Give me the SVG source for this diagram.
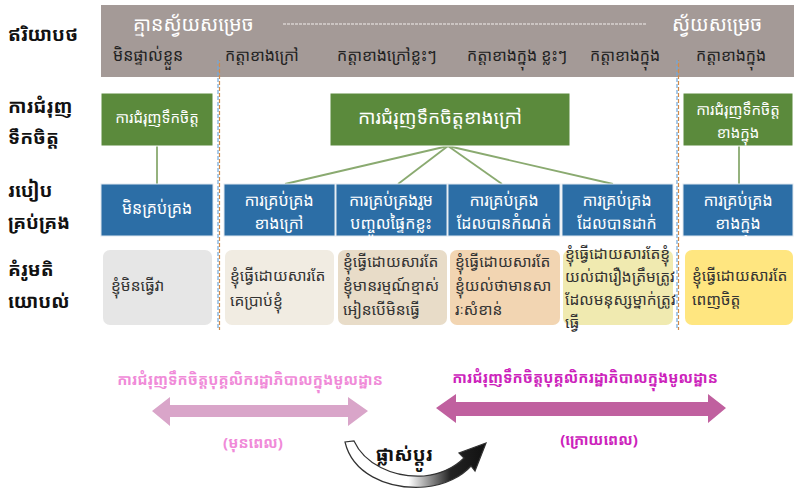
<svg xmlns="http://www.w3.org/2000/svg" width="794" height="491" viewBox="0 0 794 491">
<defs>
<style>
text{font-family:"Noto Sans Khmer","Khmer OS","Noto Sans","DejaVu Sans",sans-serif;}
.lbl{font-size:19px;font-weight:bold;fill:#111;}
.hdr{font-size:19.5px;fill:#fff;}
.sub{font-size:16px;fill:#222;}
.gbox{fill:#5b8a3c;stroke:#fff;stroke-width:1;}
.bbox{fill:#2c6ea6;stroke:#dfe8f0;stroke-width:1;}
.wt{font-size:16px;fill:#fff;text-anchor:middle;}
.dt{font-size:15.5px;fill:#333;}
.conn{stroke:#8aaa70;stroke-width:1.8;fill:none;}
</style>
<linearGradient id="cg" x1="0" y1="0" x2="1" y2="0">
<stop offset="0" stop-color="#ffffff"/>
<stop offset="0.45" stop-color="#ffffff"/>
<stop offset="0.75" stop-color="#222"/>
<stop offset="1" stop-color="#111"/>
</linearGradient>
</defs>
<rect width="794" height="491" fill="#fff"/>

<g id="header">
<rect x="101" y="5" width="693" height="72" fill="#a49a97"/>
<text class="hdr" x="133" y="31">គ្មានស្វ័យសម្រេច</text>
<line x1="283" y1="24" x2="647" y2="24" stroke="#f2eeec" stroke-width="1" stroke-dasharray="3,1"/>
<text class="hdr" x="672" y="31">ស្វ័យសម្រេច</text>
<text class="sub" x="113" y="61">មិនផ្ទាល់ខ្លួន</text>
<text class="sub" x="225" y="61">កត្តាខាងក្រៅ</text>
<text class="sub" x="337" y="61">កត្តាខាងក្រៅខ្លះៗ</text>
<text class="sub" x="467" y="61">កត្តាខាងក្នុង ខ្លះៗ</text>
<text class="sub" x="590" y="61">កត្តាខាងក្នុង</text>
<text class="sub" x="696" y="61">កត្តាខាងក្នុង</text>
</g>

<g id="row-labels">
<text class="lbl" x="8" y="41">ឥរិយាបថ</text>
<text class="lbl" x="8" y="113">ការជំរុញ</text>
<text class="lbl" x="8" y="144">ទឹកចិត្ត</text>
<text class="lbl" x="8" y="197">របៀប</text>
<text class="lbl" x="8" y="229">គ្រប់គ្រង</text>
<text class="lbl" x="8" y="276">គំរូមតិ</text>
<text class="lbl" x="8" y="308">យោបល់</text>
</g>

<g id="dividers">
<line x1="218" y1="60" x2="218" y2="330" stroke="#6fa8dc" stroke-width="1.2" stroke-dasharray="4,2"/>
<line x1="219.5" y1="60" x2="219.5" y2="330" stroke="#d08a4a" stroke-width="1.2" stroke-dasharray="4,2" stroke-dashoffset="3"/>
<line x1="677" y1="60" x2="677" y2="330" stroke="#6fa8dc" stroke-width="1.2" stroke-dasharray="4,2"/>
<line x1="678.5" y1="60" x2="678.5" y2="330" stroke="#d08a4a" stroke-width="1.2" stroke-dasharray="4,2" stroke-dashoffset="3"/>
</g>

<g id="connectors">
<line class="conn" x1="157" y1="146" x2="157" y2="184"/>
<line class="conn" x1="448" y1="146" x2="285" y2="184"/>
<line class="conn" x1="448" y1="146" x2="398" y2="184"/>
<line class="conn" x1="448" y1="146" x2="502" y2="184"/>
<line class="conn" x1="448" y1="146" x2="613" y2="184"/>
<line class="conn" x1="739" y1="146" x2="739" y2="184"/>
</g>

<g id="m1"><rect class="gbox" x="101" y="93" width="112" height="53"/><text class="wt" x="157" y="123" style="font-size:15px">ការជំរុញទឹកចិត្ត</text></g>
<g id="m2"><rect class="gbox" x="330" y="93" width="240" height="53"/><text class="wt" x="440" y="124" style="font-size:19px">ការជំរុញទឹកចិត្តខាងក្រៅ</text></g>
<g id="m3"><rect class="gbox" x="683" y="93" width="110" height="53"/><text class="wt" x="738" y="115" style="font-size:15px">ការជំរុញទឹកចិត្ត</text><text class="wt" x="738" y="138" style="font-size:15px">ខាងក្នុង</text></g>

<g id="c1"><rect class="bbox" x="101" y="184" width="112" height="52"/><text class="wt" x="157" y="214">មិនគ្រប់គ្រង</text></g>
<g id="c2"><rect class="bbox" x="224" y="184" width="111" height="52"/><text class="wt" x="279" y="206">ការគ្រប់គ្រង</text><text class="wt" x="279" y="229">ខាងក្រៅ</text></g>
<g id="c3"><rect class="bbox" x="336" y="184" width="111" height="52"/><text class="wt" x="391" y="206">ការគ្រប់គ្រងរួម</text><text class="wt" x="391" y="229">បញ្ចូលផ្ទៃកខ្លះ</text></g>
<g id="c4"><rect class="bbox" x="448" y="184" width="112" height="52"/><text class="wt" x="504" y="206">ការគ្រប់គ្រង</text><text class="wt" x="504" y="229">ដែលបានកំណត់</text></g>
<g id="c5"><rect class="bbox" x="562" y="184" width="111" height="52"/><text class="wt" x="617" y="206">ការគ្រប់គ្រង</text><text class="wt" x="617" y="229">ដែលបានដាក់</text></g>
<g id="c6"><rect class="bbox" x="683" y="184" width="110" height="52"/><text class="wt" x="738" y="206">ការគ្រប់គ្រង</text><text class="wt" x="738" y="229">ខាងក្នុង</text></g>

<g id="p1"><rect x="103" y="250" width="109" height="75" rx="7" fill="#e6e6e6"/><text class="dt" x="111" y="291">ខ្ញុំមិនធ្វើវា</text></g>
<g id="p2"><rect x="225" y="250" width="109" height="75" rx="7" fill="#f1ece2"/><text class="dt" x="230" y="281">ខ្ញុំធ្វើដោយសារតែ</text><text class="dt" x="230" y="306">គេប្រាប់ខ្ញុំ</text></g>
<g id="p3"><rect x="338" y="250" width="109" height="75" rx="7" fill="#e8dcc8"/><text class="dt" x="343" y="267">ខ្ញុំធ្វើដោយសារតែ</text><text class="dt" x="343" y="291">ខ្ញុំមានរម្មណ៍ខ្មាស់</text><text class="dt" x="343" y="315">អៀនបើមិនធ្វើ</text></g>
<g id="p4"><rect x="450" y="250" width="110" height="75" rx="7" fill="#f2d5b2"/><text class="dt" x="455" y="267">ខ្ញុំធ្វើដោយសារតែ</text><text class="dt" x="455" y="291">ខ្ញុំយល់ថាមានសា</text><text class="dt" x="455" y="315">រៈសំខាន់</text></g>
<g id="p5"><rect x="563" y="250" width="110" height="75" rx="7" fill="#f0eab0"/><text class="dt" x="565" y="259">ខ្ញុំធ្វើដោយសារតែខ្ញុំ</text><text class="dt" x="565" y="282">យល់ជារឿងត្រឹមត្រូវ</text><text class="dt" x="565" y="305">ដែលមនុស្សម្នាក់ត្រូវ</text><text class="dt" x="565" y="328">ធ្វើ</text></g>
<g id="p6"><rect x="685" y="250" width="108" height="75" rx="7" fill="#ffe680"/><text class="dt" x="692" y="281">ខ្ញុំធ្វើដោយសារតែ</text><text class="dt" x="692" y="305">ពេញចិត្ត</text></g>

<g id="before">
<text x="250" y="385" font-size="15" font-weight="bold" fill="#f08ad8" text-anchor="middle">ការជំរុញទឹកចិត្តបុគ្គលិករដ្ឋាភិបាលក្នុងមូលដ្ឋាន</text>
<polygon points="152,411 170,397 170,405 348,405 348,397 368,411 348,426 348,417 170,417 170,426" fill="#d9a5c9"/>
<text x="253" y="448" font-size="15" font-weight="bold" fill="#f08ad8" text-anchor="middle">(មុនពេល)</text>
</g>

<g id="after">
<text x="585" y="383" font-size="15" font-weight="bold" fill="#cc22bb" text-anchor="middle">ការជំរុញទឹកចិត្តបុគ្គលិករដ្ឋាភិបាលក្នុងមូលដ្ឋាន</text>
<polygon points="436,408 456,394 456,402 708,402 708,394 726,408 708,423 708,416 456,416 456,423" fill="#c0609f"/>
<text x="599" y="445" font-size="15" font-weight="bold" fill="#cc22bb" text-anchor="middle">(ក្រោយពេល)</text>
</g>

<g id="change">
<path d="M345,442 C352,472 385,490 425,487 C446,485 462,476 471,466 L475,471 L486,443 L459,453 L464,458 C456,466 442,474 424,476 C392,478 364,463 354,441 Z" fill="url(#cg)" stroke="#333" stroke-width="1.2"/>
<text x="404" y="461" font-size="19" font-weight="bold" fill="#111" text-anchor="middle">ផ្លាស់ប្តូរ</text>
</g>
</svg>
